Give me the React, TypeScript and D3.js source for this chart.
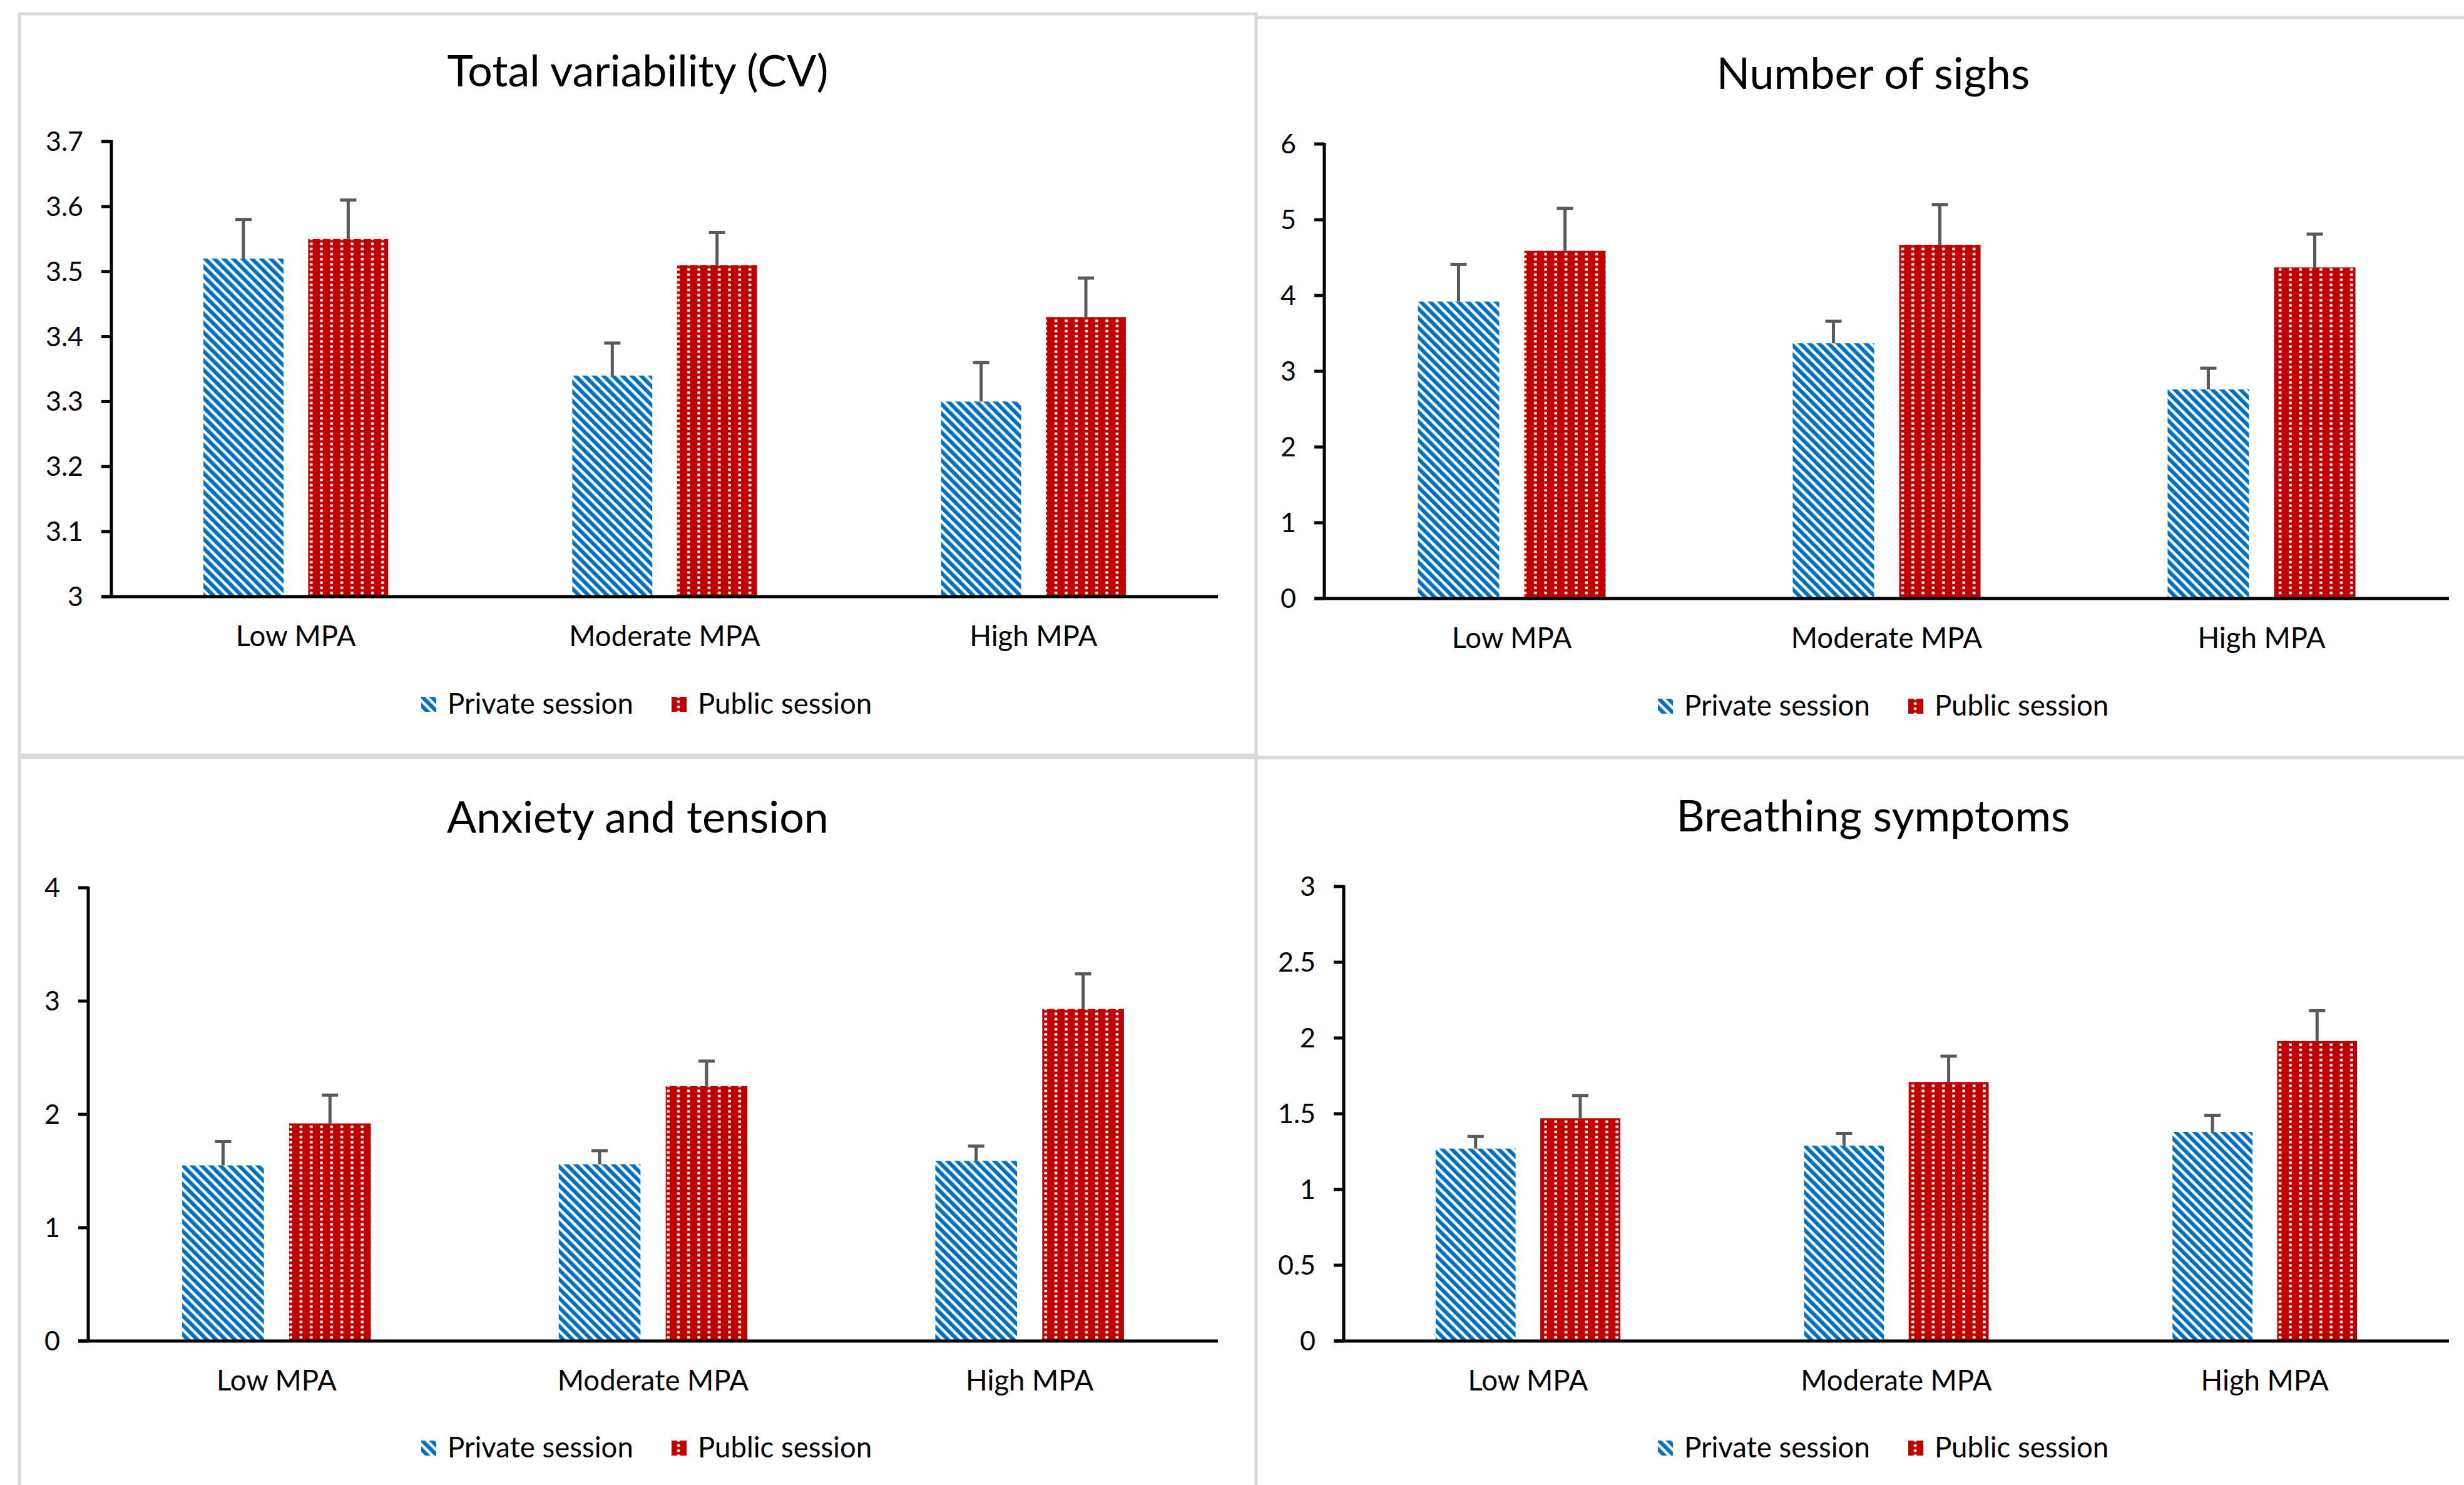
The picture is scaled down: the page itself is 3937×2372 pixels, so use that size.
import React from "react";
import * as d3 from "d3";

// categories and series
const categories = ["Low MPA", "Moderate MPA", "High MPA"];
const seriesNames = ["Private session", "Public session"];

// Total variability (CV)
const cvPrivate = [3.52, 3.34, 3.3];
const cvPrivateErr = [0.06, 0.05, 0.06];
const cvPublic = [3.55, 3.51, 3.43];
const cvPublicErr = [0.06, 0.05, 0.06];
const cvTicks = [3, 3.1, 3.2, 3.3, 3.4, 3.5, 3.6, 3.7];

// Number of sighs
const sighsPrivate = [3.92, 3.37, 2.76];
const sighsPrivateErr = [0.49, 0.29, 0.28];
const sighsPublic = [4.59, 4.67, 4.37];
const sighsPublicErr = [0.56, 0.53, 0.44];
const sighsTicks = [0, 1, 2, 3, 4, 5, 6];

// Anxiety and tension
const anxietyPrivate = [1.55, 1.56, 1.59];
const anxietyPrivateErr = [0.21, 0.12, 0.13];
const anxietyPublic = [1.92, 2.25, 2.93];
const anxietyPublicErr = [0.25, 0.22, 0.31];
const anxietyTicks = [0, 1, 2, 3, 4];

// Breathing symptoms
const breathPrivate = [1.27, 1.29, 1.38];
const breathPrivateErr = [0.08, 0.08, 0.11];
const breathPublic = [1.47, 1.71, 1.98];
const breathPublicErr = [0.15, 0.17, 0.2];
const breathTicks = [0, 0.5, 1, 1.5, 2, 2.5, 3];

const W = 3937;
const H = 2372;
const FONT = "Lato, 'Open Sans', sans-serif";
const BLUE = "#0070C0";
const RED = "#C00000";
const ERR = "#595959";
const fmt = d3.format("~f");

// layout of the four chart boxes
const panels = [
  {
    title: "Total variability (CV)",
    titleX: 1019,
    box: [31, 22, 2007, 1206],
    plot: [178, 1946, 226, 953],
    ticks: cvTicks,
    priv: cvPrivate, privErr: cvPrivateErr, pub: cvPublic, pubErr: cvPublicErr,
    legend: [1027, 1125],
  },
  {
    title: "Number of sighs",
    titleX: 2993,
    box: [2007, 28, 3995, 1210],
    plot: [2116, 3913, 230, 956],
    ticks: sighsTicks,
    priv: sighsPrivate, privErr: sighsPrivateErr, pub: sighsPublic, pubErr: sighsPublicErr,
    legend: [3003, 1128],
  },
  {
    title: "Anxiety and tension",
    titleX: 1019,
    box: [31, 1210, 2007, 2400],
    plot: [141, 1946, 1418, 2142],
    ticks: anxietyTicks,
    priv: anxietyPrivate, privErr: anxietyPrivateErr, pub: anxietyPublic, pubErr: anxietyPublicErr,
    legend: [1027, 2313],
  },
  {
    title: "Breathing symptoms",
    titleX: 2993,
    box: [2007, 1210, 3995, 2400],
    plot: [2147, 3913, 1416, 2142],
    ticks: breathTicks,
    priv: breathPrivate, privErr: breathPrivateErr, pub: breathPublic, pubErr: breathPublicErr,
    legend: [3003, 2313],
  },
];

const Panel = ({ p }) => {
  const [x0, x1, yTop, yBot] = p.plot;
  const [bx0, by0, bx1, by1] = p.box;

  const x = d3.scaleBand().domain(categories).range([x0, x1]).padding(0);
  const y = d3
    .scaleLinear()
    .domain([p.ticks[0], p.ticks[p.ticks.length - 1]])
    .range([yBot, yTop]);

  const bw = x.bandwidth() * 0.217;
  const gap = x.bandwidth() * 0.067;

  const series = [
    { vals: p.priv, errs: p.privErr, fill: "url(#privPat)", off: -gap / 2 - bw },
    { vals: p.pub, errs: p.pubErr, fill: "url(#pubPat)", off: gap / 2 },
  ];

  return (
    <g>
      {/* chart border */}
      <rect
        x={bx0}
        y={by0}
        width={bx1 - bx0}
        height={by1 - by0}
        fill="none"
        stroke="#d9d9d9"
        strokeWidth={5}
      />
      <text x={p.titleX} y={yTop - 88} textAnchor="middle" fontSize={70} fill="#000">
        {p.title}
      </text>

      {/* bars + error bars */}
      {series.map((s, si) =>
        s.vals.map((v, i) => {
          const bx = x(categories[i]) + x.bandwidth() / 2 + s.off;
          const top = y(v + s.errs[i]);
          return (
            <g key={`${si}-${i}`}>
              <rect x={bx} y={y(v)} width={bw} height={yBot - y(v)} fill={s.fill} />
              <line x1={bx + bw / 2} x2={bx + bw / 2} y1={y(v)} y2={top} stroke={ERR} strokeWidth={5} />
              <line x1={bx + bw / 2 - 13} x2={bx + bw / 2 + 13} y1={top} y2={top} stroke={ERR} strokeWidth={5} />
            </g>
          );
        })
      )}

      {/* y axis */}
      <line x1={x0} x2={x0} y1={yTop - 2} y2={yBot} stroke="#000" strokeWidth={5} />
      {p.ticks.map((t) => (
        <g key={t}>
          <line x1={x0 - 16} x2={x0} y1={y(t)} y2={y(t)} stroke="#000" strokeWidth={5} />
          <text x={x0 - 45} y={y(t) + 15} textAnchor="end" fontSize={43} fill="#000">
            {fmt(t)}
          </text>
        </g>
      ))}

      {/* x axis */}
      <line x1={x0 - 16} x2={x1} y1={yBot} y2={yBot} stroke="#000" strokeWidth={5} />
      {categories.map((c) => (
        <text
          key={c}
          x={x(c) + x.bandwidth() / 2}
          y={yBot + 79}
          textAnchor="middle"
          fontSize={45.5}
          fill="#000"
        >
          {c}
        </text>
      ))}

      {/* legend */}
      <g transform={`translate(${p.legend[0]},${p.legend[1]})`}>
        <rect x={-354} y={-12} width={24} height={24} fill="url(#privPat)" />
        <text x={-312} y={15} fontSize={45.5} fill="#000">
          {seriesNames[0]}
        </text>
        <rect x={46} y={-12} width={24} height={24} fill="url(#pubPat)" />
        <text x={88} y={15} fontSize={45.5} fill="#000">
          {seriesNames[1]}
        </text>
      </g>
    </g>
  );
};

export default function App() {
  return (
    <svg
      width={W}
      height={H}
      viewBox={`0 0 ${W} ${H}`}
      style={{ position: "absolute", left: 0, top: 0, background: "#fff", fontFamily: FONT }}
    >
      <defs>
        <pattern
          id="privPat"
          patternUnits="userSpaceOnUse"
          width={10.6}
          height={10.6}
          patternTransform="rotate(-45)"
        >
          <rect width={10.6} height={10.6} fill="#fff" />
          <rect width={6.2} height={10.6} fill={BLUE} />
        </pattern>
        <pattern id="pubPat" patternUnits="userSpaceOnUse" width={16.3} height={8.2}>
          <rect width={16.3} height={8.2} fill={RED} />
          <rect x={6} y={2.2} width={4.5} height={3.8} fill="#fff" />
        </pattern>
      </defs>
      <rect width={W} height={H} fill="#fff" />
      {panels.map((p) => (
        <Panel key={p.title} p={p} />
      ))}
    </svg>
  );
}
